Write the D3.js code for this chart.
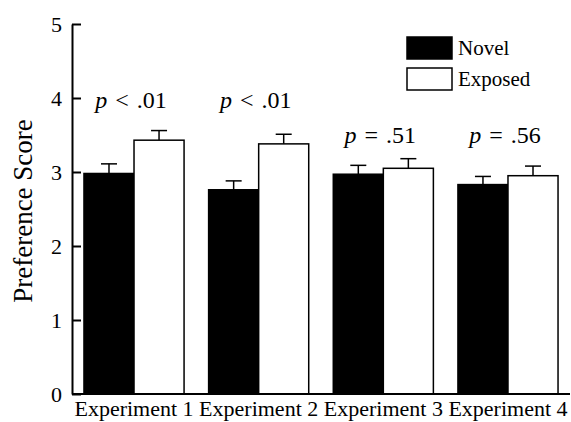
<!DOCTYPE html>
<html>
<head>
<meta charset="utf-8">
<script src="https://cdn.jsdelivr.net/npm/d3@7/dist/d3.min.js"></script>
<style>
  html, body { margin: 0; padding: 0; background: #fff; }
  svg { display: block; }
  text { font-family: "Liberation Serif", "Times New Roman", serif; fill: #000; }
</style>
</head>
<body>
<svg id="chart" width="571" height="422"></svg>
<script>
const categories = ["Experiment 1", "Experiment 2", "Experiment 3", "Experiment 4"];
const series = ["Novel", "Exposed"];
const novel = [2.98, 2.76, 2.97, 2.83];
const exposed = [3.43, 3.38, 3.05, 2.95];
const novelErr = [0.13, 0.12, 0.12, 0.11];
const exposedErr = [0.13, 0.13, 0.13, 0.13];
const pLabels = ["< .01", "< .01", "= .51", "= .56"];
const pLabelY = [3.87, 3.87, 3.39, 3.39];
const yTicks = [0, 1, 2, 3, 4, 5];
const seriesFill = ["#000000", "#ffffff"];

(function () {
const svg = d3.select("#chart");
const pL = 72, pR = 570, pT = 24, pB = 394;

const x = d3.scaleBand().domain(categories).range([pL, pR])
  .paddingInner(0.197).paddingOuter(0.096);
const xs = d3.scaleBand().domain(series).range([0, x.bandwidth()]).padding(0);
const y = d3.scaleLinear().domain([0, 5]).range([pB, pT]);

const values = [novel, exposed];
const errs = [novelErr, exposedErr];

const rows = [];
categories.forEach((c, i) => {
  series.forEach((s, j) => {
    rows.push({ cat: c, ser: s, v: values[j][i], e: errs[j][i], fill: seriesFill[j] });
  });
});

// error bars
const eb = svg.append("g");
rows.forEach(d => {
  const cx = x(d.cat) + xs(d.ser) + xs.bandwidth() / 2;
  eb.append("line").attr("x1", cx).attr("x2", cx)
    .attr("y1", y(d.v)).attr("y2", y(d.v + d.e))
    .attr("stroke", "#000").attr("stroke-width", 1.5);
  eb.append("line").attr("x1", cx - 8).attr("x2", cx + 8)
    .attr("y1", y(d.v + d.e)).attr("y2", y(d.v + d.e))
    .attr("stroke", "#000").attr("stroke-width", 1.5);
});

svg.append("g").selectAll("rect").data(rows).join("rect")
  .attr("x", d => x(d.cat) + xs(d.ser))
  .attr("y", d => y(d.v))
  .attr("width", xs.bandwidth())
  .attr("height", d => y(0) - y(d.v))
  .attr("fill", d => d.fill)
  .attr("stroke", "#000").attr("stroke-width", 1.5);

// y axis
const yAxis = svg.append("g").attr("transform", `translate(${pL},0)`)
  .call(d3.axisLeft(y).tickValues(yTicks).tickFormat(d3.format("d"))
    .tickSizeInner(-9).tickSizeOuter(0).tickPadding(10));
yAxis.selectAll("path, line").attr("stroke", "#000").attr("stroke-width", 2);
yAxis.selectAll("text").attr("font-size", 22)
  .attr("font-family", "Liberation Serif, Times New Roman, serif").attr("fill", "#000");

// x axis
const xAxis = svg.append("g").attr("transform", `translate(0,${pB})`)
  .call(d3.axisBottom(x).tickSize(0).tickPadding(6.5));
xAxis.select("path").attr("d", `M${pL},0H${pR}`).attr("stroke", "#000").attr("stroke-width", 2);
xAxis.selectAll("text").attr("font-size", 22)
  .attr("font-family", "Liberation Serif, Times New Roman, serif").attr("fill", "#000");

// y title
svg.append("text")
  .attr("transform", `translate(32,${(pT + pB) / 2 + 2}) rotate(-90)`)
  .attr("text-anchor", "middle").attr("font-size", 27)
  .text("Preference Score");

// p labels
categories.forEach((c, i) => {
  const t = svg.append("text")
    .attr("x", x(c) + x.bandwidth() / 2 - 3)
    .attr("y", y(pLabelY[i]))
    .attr("text-anchor", "middle").attr("font-size", 24)
    .attr("word-spacing", 2);
  t.append("tspan").attr("font-style", "italic").text("p");
  t.append("tspan").text(" " + pLabels[i]);
});

// legend
const lg = svg.append("g").attr("transform", "translate(407,37)");
series.forEach((s, j) => {
  lg.append("rect").attr("x", 0).attr("y", j * 31).attr("width", 45).attr("height", 22)
    .attr("fill", seriesFill[j]).attr("stroke", "#000").attr("stroke-width", 1.5);
  lg.append("text").attr("x", 51).attr("y", j * 31 + 17.5)
    .attr("font-size", 21).text(s);
});
})();
</script>
</body>
</html>
